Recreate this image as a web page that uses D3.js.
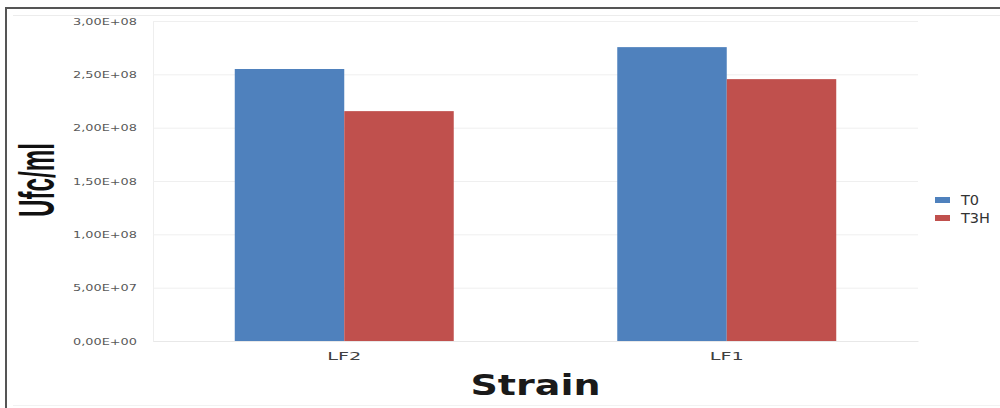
<!DOCTYPE html>
<html><head><meta charset="utf-8">
<script src="https://cdn.jsdelivr.net/npm/d3@7"></script>
<style>html,body{margin:0;padding:0;background:#fff;overflow:hidden}</style>
</head><body>
<svg id="c" width="1000" height="408"></svg>
<script>
const categories = ["LF2", "LF1"];
const seriesNames = ["T0", "T3H"];
const t0Values = [2.55e8, 2.755e8];
const t3hValues = [2.155e8, 2.455e8];
const yTicks = [0, 5e7, 1e8, 1.5e8, 2e8, 2.5e8, 3e8];
const yTickLabels = ["0,00E+00","5,00E+07","1,00E+08","1,50E+08","2,00E+08","2,50E+08","3,00E+08"];
const colors = ["#4F81BD", "#C0504D"];

const svg = d3.select("#c");
const L = 153, R = 918, T = 21, B = 341;

// frame
svg.append("line").attr("x1",6).attr("x2",1000).attr("y1",8).attr("y2",8).attr("stroke","#555").attr("stroke-width",2);
svg.append("line").attr("x1",6).attr("x2",6).attr("y1",7).attr("y2",408).attr("stroke","#555").attr("stroke-width",2);
svg.append("line").attr("x1",13).attr("x2",1000).attr("y1",15.5).attr("y2",15.5).attr("stroke","#ececec").attr("stroke-width",1);
svg.append("line").attr("x1",13).attr("x2",1000).attr("y1",405.5).attr("y2",405.5).attr("stroke","#f2f2f2").attr("stroke-width",1);

const y = d3.scaleLinear().domain([0, 3e8]).range([B, T]);
const x0 = d3.scaleBand().domain(categories).range([L, R]).paddingInner(0.4275).paddingOuter(0.21375);
const x1 = d3.scaleBand().domain(seriesNames).range([0, x0.bandwidth()]);

// gridlines
const yAxis = d3.axisLeft(y).tickValues(yTicks).tickSize(-(R - L)).tickFormat((d,i) => yTickLabels[i]);
const gy = svg.append("g").attr("transform", `translate(${L},0)`).call(yAxis);
gy.select(".domain").attr("stroke","#eeeeee");
gy.selectAll(".tick line").attr("stroke","#efefef");
gy.selectAll(".tick text").attr("x",-16).attr("fill","#595959")
  .style("font-family","'DejaVu Sans', sans-serif").style("font-size","9.5px")
  .attr("textLength",64).attr("lengthAdjust","spacingAndGlyphs");

// bars
const data = categories.map((c, i) => ({cat: c, vals: [t0Values[i], t3hValues[i]]}));
const groups = svg.append("g").selectAll("g").data(data).join("g")
  .attr("transform", d => `translate(${x0(d.cat)},0)`);
groups.selectAll("rect").data(d => d.vals.map((v, j) => ({s: seriesNames[j], v, j})))
  .join("rect")
  .attr("x", d => x1(d.s))
  .attr("y", d => y(d.v))
  .attr("width", x1.bandwidth())
  .attr("height", d => B - y(d.v))
  .attr("fill", d => colors[d.j]);

// x axis
const xAxis = d3.axisBottom(x0).tickSize(0).tickPadding(12);
const gx = svg.append("g").attr("transform", `translate(0,${B})`).call(xAxis);
gx.select(".domain").attr("stroke","#e8e8e8");
gx.selectAll(".tick text").attr("fill","#404040")
  .style("font-family","'DejaVu Sans', sans-serif").style("font-size","10.5px")
  .attr("textLength",34).attr("lengthAdjust","spacingAndGlyphs");

// axis titles
svg.append("text").attr("x", (L + R) / 2).attr("y", 395).attr("text-anchor","middle")
  .style("font-family","'DejaVu Sans', sans-serif").style("font-weight","bold").style("font-size","28px")
  .attr("fill","#1a1a1a").attr("textLength",130).attr("lengthAdjust","spacingAndGlyphs").text("Strain");
svg.append("text").attr("transform","translate(54,180) rotate(-90)").attr("text-anchor","middle")
  .style("font-family","'Liberation Sans Narrow', 'Liberation Sans', sans-serif").style("font-weight","bold").style("font-size","50px")
  .attr("fill","#111").attr("textLength",74).attr("lengthAdjust","spacingAndGlyphs").text("Ufc/ml");

// legend
const lg = svg.append("g").selectAll("g").data(seriesNames).join("g")
  .attr("transform", (d, i) => `translate(935,${197 + i * 18})`);
lg.append("rect").attr("width",15).attr("height",6).attr("fill",(d,i)=>colors[i]);
lg.append("text").attr("x",26).attr("y",8).attr("fill","#333")
  .style("font-family","'DejaVu Sans', sans-serif").style("font-size","14.5px").text(d => d);
</script>
</body></html>
